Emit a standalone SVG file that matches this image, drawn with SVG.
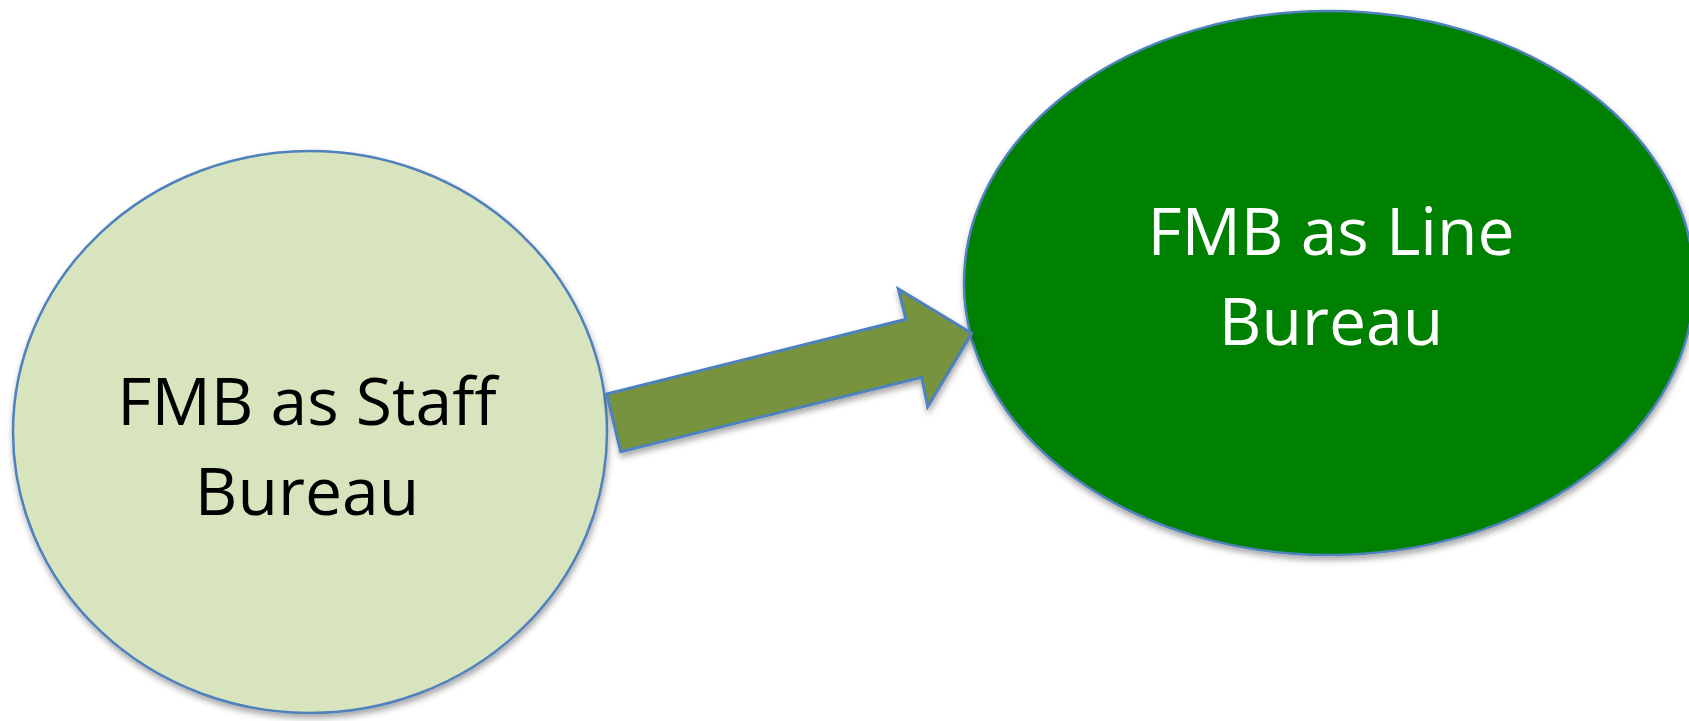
<svg xmlns="http://www.w3.org/2000/svg" width="1689" height="721" viewBox="0 0 1689 721">
  <defs>
    <filter id="soft-shadow" x="-10%" y="-10%" width="120%" height="125%">
      <feDropShadow dx="1" dy="4" stdDeviation="3" flood-color="#000000" flood-opacity="0.35"/>
    </filter>
  </defs>
  <style>
    .node-shape { stroke: #4F81BD; stroke-width: 2.5; filter: url(#soft-shadow); }
    .label { font-family: "Open Sans", "Liberation Sans", sans-serif; font-size: 66px; text-anchor: middle; }
    .arrow { fill: #77933C; stroke: #4F81BD; stroke-width: 3; stroke-linejoin: miter; filter: url(#soft-shadow); }
  </style>
  <rect width="1689" height="721" fill="#FFFFFF"/>

  <g id="staff-bureau">
    <ellipse class="node-shape" cx="310" cy="432" rx="297" ry="281" fill="#D7E4BD"/>
    <text class="label" x="307" y="425" fill="#000000">FMB as Staff</text>
    <text class="label" x="307" y="515" fill="#000000">Bureau</text>
  </g>

  <g id="line-bureau">
    <ellipse class="node-shape" cx="1329" cy="283" rx="365" ry="272" fill="#008000"/>
    <text class="label" x="1331" y="255" fill="#FFFFFF">FMB as Line</text>
    <text class="label" x="1331" y="345" fill="#FFFFFF">Bureau</text>
  </g>

  <g id="connectors">
    <polygon class="arrow" points="606.7,394 906,319.3 898.3,289 971.7,333.3 927.7,406.7 921.7,377.3 620.7,451.7"/>
  </g>
</svg>
